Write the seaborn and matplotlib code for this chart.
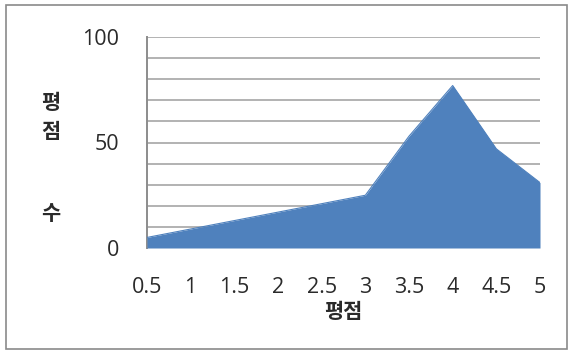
import matplotlib
matplotlib.use("Agg")
import matplotlib.pyplot as plt
import seaborn as sns
import pandas as pd
from matplotlib.patches import Rectangle

# Rating distribution
ratings = [0.5, 1, 1.5, 2, 2.5, 3, 3.5, 4, 4.5, 5]
counts = [5, 9, 13, 17, 21, 25, 53, 77, 47, 31]
x_tick_labels = ["0.5", "1", "1.5", "2", "2.5", "3", "3.5", "4", "4.5", "5"]
y_ticks = [0, 50, 100]
y_tick_labels = ["0", "50", "100"]

df = pd.DataFrame({"rating": ratings, "count": counts})

sns.set_theme(style="white")
plt.rcParams["font.family"] = ["Open Sans", "Noto Sans CJK KR", "DejaVu Sans"]

W, H = 569, 351
fig = plt.figure(figsize=(W / 100, H / 100), dpi=100)
fig.patch.set_facecolor("white")

left, right, top, bottom = 147, 540, 37, 248
ax = fig.add_axes([left / W, 1 - bottom / H, (right - left) / W, (bottom - top) / H])

fill_color = "#4F81BD"
sns.lineplot(data=df, x="rating", y="count", ax=ax, color=fill_color, lw=0.8, zorder=3)
ax.fill_between(df["rating"], df["count"], 0, color=fill_color, lw=0, zorder=3)

ax.set_xlim(ratings[0], ratings[-1])
ax.set_ylim(0, 100)

# Light horizontal guides every 10
for v in range(10, 101, 10):
    ax.axhline(v, color="#a6a6a6", lw=1.2, zorder=1)

ax.set_xticks(ratings)
ax.set_xticklabels(x_tick_labels)
ax.set_yticks(y_ticks)
ax.set_yticklabels(y_tick_labels)
ax.tick_params(axis="both", length=0, labelsize=15.5, colors="#2a2a2a")
ax.tick_params(axis="y", pad=20)
ax.tick_params(axis="x", pad=21)
ax.set_xlabel("")
ax.set_ylabel("")

for side in ["top", "right", "bottom"]:
    ax.spines[side].set_visible(False)
ax.spines["left"].set_color("#8c8c8c")
ax.spines["left"].set_linewidth(1.4)

kfont = dict(family=["Noto Sans CJK KR", "DejaVu Sans"], fontweight="bold",
             fontsize=15, color="#2a2a2a", ha="center", va="center")

# x-axis title
fig.text(343 / W, 1 - 312 / H, "평점", **kfont)

# y-axis title, stacked vertically
for ch, ypix in [("평", 102), ("점", 132), ("수", 214)]:
    fig.text(51 / W, 1 - ypix / H, ch, **kfont)

# Outer chart border
fig.patches.append(Rectangle((6 / W, 1 - 349 / H), (567 - 6) / W, (349 - 5) / H,
                             transform=fig.transFigure, fill=False,
                             edgecolor="#8a8a8a", lw=1.2))

fig.savefig("out.png", dpi=100, facecolor="white")
